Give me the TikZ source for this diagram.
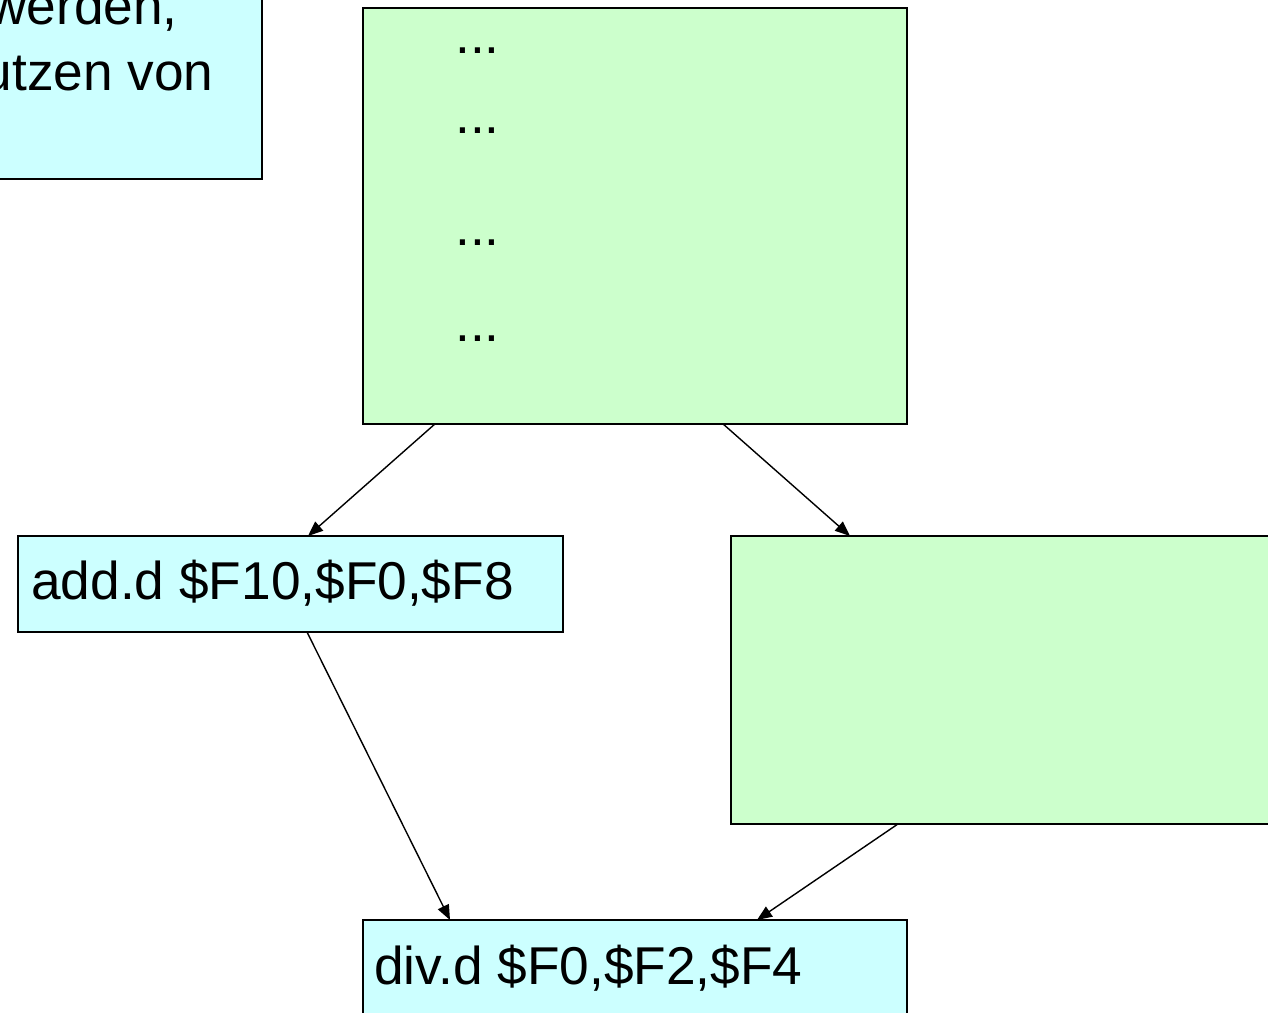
\documentclass[tikz,border=0pt]{standalone}
\usepackage{fontspec}
\setmainfont{Liberation Sans}
\usetikzlibrary{arrows.meta}
\definecolor{cyanfill}{HTML}{CCFFFF}
\definecolor{greenfill}{HTML}{CCFFCC}
\tikzset{
  boxc/.style={draw=black, line width=1.1pt, fill=cyanfill, anchor=north west, inner sep=0pt, outer sep=0pt},
  boxg/.style={draw=black, line width=1.1pt, fill=greenfill, anchor=north west, inner sep=0pt, outer sep=0pt},
  txt/.style={inner sep=0pt, font=\fontsize{30.3}{36}\selectfont},
  arr/.style={line width=0.8pt, -{Triangle[length=0.3cm,width=0.24cm]}}
}
\begin{document}
\begin{tikzpicture}[x=0.02cm, y=-0.02cm]
\useasboundingbox (0,0) rectangle (1268,1013);
\clip (0,0) rectangle (1268,1013);
% boxes
\node[boxc, minimum width=5.44cm, minimum height=3.78cm] (tl) at (-10,-10) {};
\node[boxg, minimum width=10.88cm, minimum height=8.32cm] (top) at (363,8) {};
\node[boxc, minimum width=10.9cm, minimum height=1.92cm] (add) at (18,536) {};
\node[boxg, minimum width=11.2cm, minimum height=5.76cm] (right) at (731,536) {};
\node[boxc, minimum width=10.88cm, minimum height=2.2cm] (div) at (363,920) {};
% texts
\node[txt, anchor=base east] (t1) at (178,25) {werden,};
\node[txt, anchor=base east] (t2) at (214,91) {utzen von};
\node[txt, anchor=base west] (d1) at (455,54) {...};
\node[txt, anchor=base west] (d2) at (455,134) {...};
\node[txt, anchor=base west] (d3) at (455,246) {...};
\node[txt, anchor=base west] (d4) at (455,342) {...};
\node[txt, anchor=base west] (addt) at (31,599) {add.d \$F10,\$F0,\$F8};
\node[txt, anchor=base west] (divt) at (374,984) {div.d \$F0,\$F2,\$F4};
% connectors
\draw[arr] (435,0 |- top.south) -- (308,0 |- add.north);
\draw[arr] (723,0 |- top.south) -- (850,0 |- right.north);
\draw[arr] (307,0 |- add.south) -- (450,0 |- div.north);
\draw[arr] (898,0 |- right.south) -- (757,0 |- div.north);
\end{tikzpicture}
\end{document}
